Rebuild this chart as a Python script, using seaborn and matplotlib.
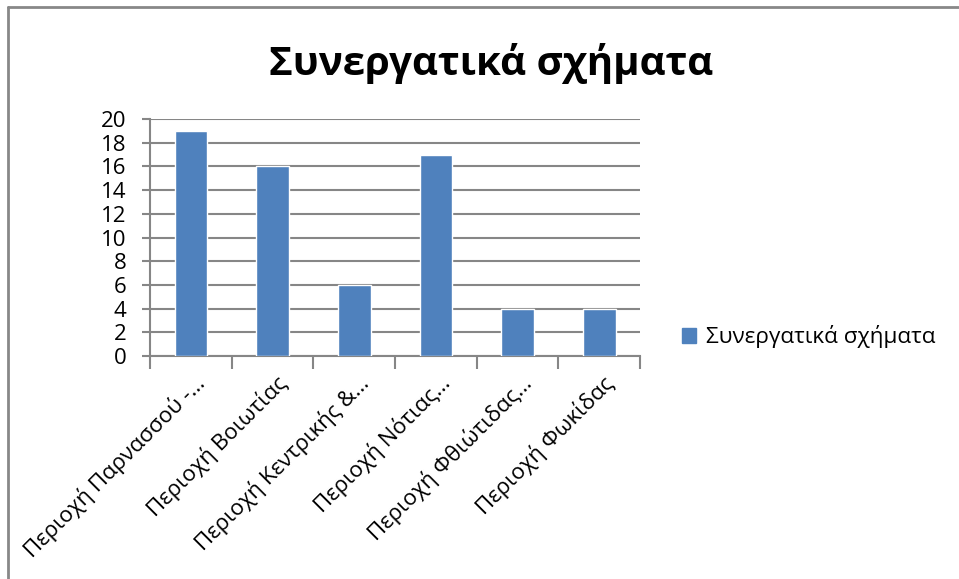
import numpy as np
import pandas as pd
import seaborn as sns
import matplotlib.pyplot as plt
from matplotlib.patches import Patch
from matplotlib.lines import Line2D
from matplotlib.transforms import offset_copy

# data
regions = ["Περιοχή Παρνασσού -…", "Περιοχή Βοιωτίας", "Περιοχή Κεντρικής &…",
           "Περιοχή Νότιας…", "Περιοχή Φθιώτιδας…", "Περιοχή Φωκίδας"]
counts = [19, 16, 6, 17, 4, 4]
y_ticks = [0, 2, 4, 6, 8, 10, 12, 14, 16, 18, 20]
series_name = "Συνεργατικά σχήματα"
chart_title = "Συνεργατικά σχήματα"

df = pd.DataFrame({"region": regions, "count": counts})

sns.set_style("white")
plt.rcParams['font.family'] = ['Open Sans', 'DejaVu Sans']
plt.rcParams['text.color'] = 'black'
plt.rcParams['xtick.color'] = 'black'
plt.rcParams['ytick.color'] = 'black'

bar_color = "#4F81BD"
grid_color = "#868686"

fig = plt.figure(figsize=(9.59, 5.79), dpi=100)
ax = fig.add_axes([150 / 959, 1 - 356 / 579, 490 / 959, 237 / 579])

sns.barplot(data=df, x="region", y="count", color=bar_color, width=0.4,
            saturation=1, ax=ax, zorder=3)

ax.set_ylim(0, 20)
ax.set_xlim(-0.5, len(regions) - 0.5)
ax.set_yticks(y_ticks)
ax.set_yticklabels([str(v) for v in y_ticks], fontsize=16)
ax.yaxis.grid(True, color=grid_color, linewidth=1.5, zorder=0)
ax.set_axisbelow(True)
ax.set_xlabel("")
ax.set_ylabel("")

for side in ["top", "right"]:
    ax.spines[side].set_visible(False)
for side in ["left", "bottom"]:
    ax.spines[side].set_color(grid_color)
    ax.spines[side].set_linewidth(1.5)

ax.tick_params(axis="y", direction="out", length=6, width=1.5, color=grid_color,
               left=True, pad=11, labelcolor="black")
# category boundary ticks on the x axis
ax.set_xticks(np.arange(len(regions) + 1) - 0.5)
ax.set_xticklabels([])
ax.tick_params(axis="x", direction="out", length=9, width=1.5, color=grid_color,
               bottom=True)

# rotated, truncated category labels
for i, lab in enumerate(regions):
    tr = offset_copy(ax.get_xaxis_transform(), fig=fig, x=3, y=-16, units="dots")
    ax.text(i, 0, lab, transform=tr, rotation=45, ha="right", va="top",
            rotation_mode="anchor", fontsize=16, color="black")

fig.text(491 / 959, 1 - 75 / 579, chart_title, ha="center", va="baseline",
         fontsize=29, fontweight="bold", color="black")

handle = Patch(facecolor=bar_color, edgecolor=bar_color)
fig.legend([handle], [series_name], loc="center left",
           bbox_to_anchor=(662 / 959, 1 - 337 / 579), frameon=False,
           fontsize=16.2, handlelength=0.6, handleheight=0.6, handletextpad=0.45)

# outer chart frame (left and top edges visible)
fig.add_artist(Line2D([8 / 959, 8 / 959], [0, 1 - 7 / 579], color="#888888",
                      linewidth=2, transform=fig.transFigure))
fig.add_artist(Line2D([8 / 959, 1], [1 - 7 / 579, 1 - 7 / 579], color="#888888",
                      linewidth=2, transform=fig.transFigure))

fig.savefig("out.png", dpi=100)
